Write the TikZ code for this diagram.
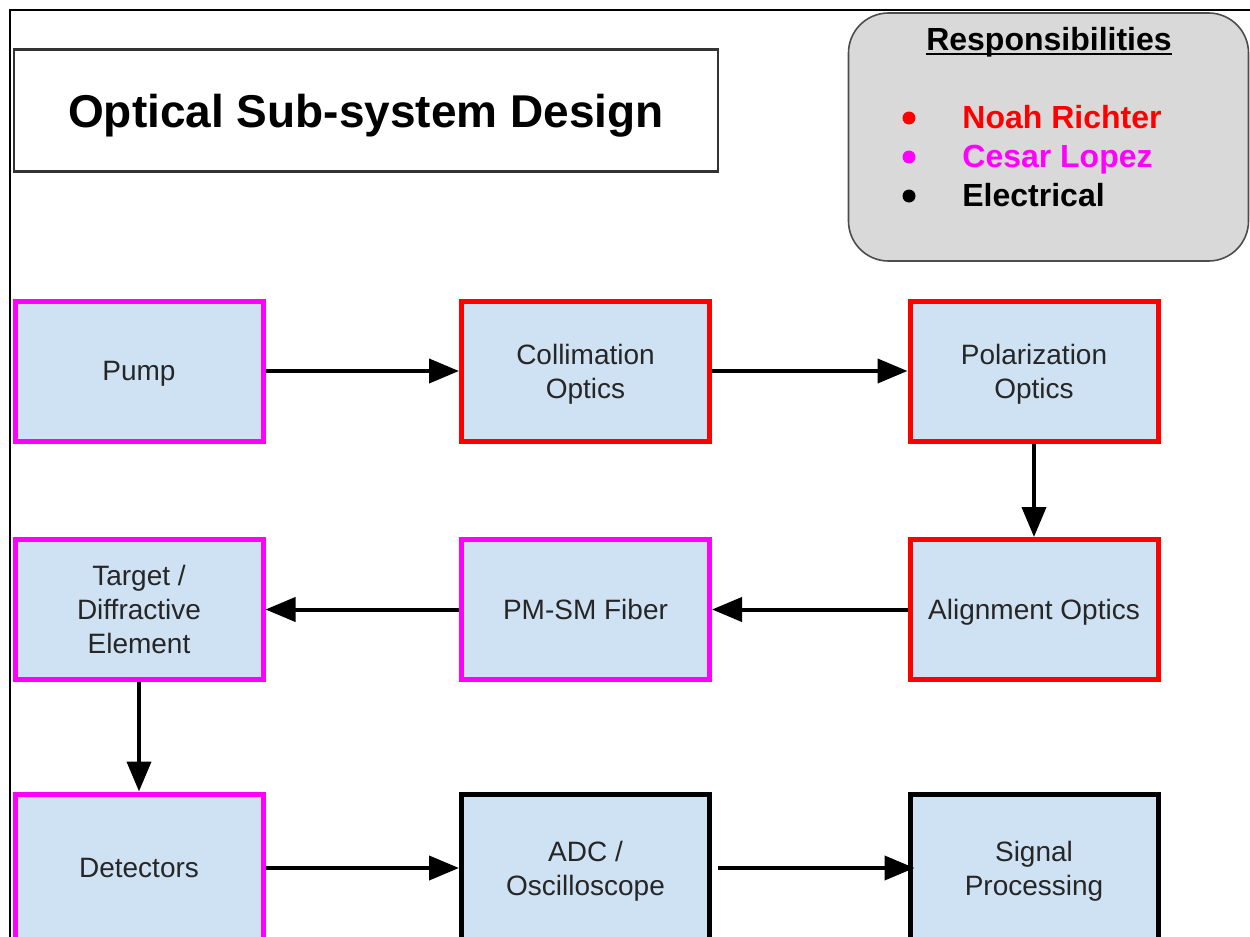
\documentclass[tikz,border=0pt]{standalone}
\usepackage{fontspec}
\setmainfont{Liberation Sans}
\usetikzlibrary{arrows.meta}
\definecolor{boxblue}{HTML}{CFE2F3}
\definecolor{legendgrey}{HTML}{D9D9D9}
\definecolor{noahred}{HTML}{FF0000}
\definecolor{cesarpink}{HTML}{FF00FF}

\begin{document}
\begin{tikzpicture}[x=0.5pt, y=-0.5pt,
    block/.style={draw, line width=2.5pt, fill=boxblue, minimum width=124pt, minimum height=70pt,
        align=center, text=black!85, text depth=0pt, font=\fontsize{14}{17}\selectfont},
    optic/.style={block, draw=noahred},
    fiber/.style={block, draw=cesarpink},
    elec/.style={block, draw=black},
    lastrow/.style={minimum height=74pt},
    dot/.style={circle, inner sep=0pt, minimum size=6.5pt},
    who/.style={anchor=base west, inner sep=0pt, font=\bfseries\fontsize{16}{19}\selectfont},
    flow/.style={-{Triangle[length=15pt, width=12pt]}, line width=2pt}]
    \useasboundingbox (0, 0) rectangle (1250, 937);
    \draw[line width=1pt] (1250, 10) -- (10, 10) -- (10, 937);
    % title and legend
    \node[draw=black!80, line width=1.2pt, minimum width=352pt, minimum height=61pt, text depth=0pt,
        font=\bfseries\fontsize{23}{27}\selectfont] (title) at (366, 110.5) {Optical Sub-system Design};
    \node[draw=black!70, line width=0.8pt, fill=legendgrey, rounded corners=20pt,
        minimum width=200pt, minimum height=124pt] (legend) at (1048.5, 137) {};
    \node[font=\bfseries\fontsize{16}{19}\selectfont, anchor=base, inner sep=0pt] (resp) at (1049, 50) {Responsibilities};
    \draw[line width=0.9pt] ([yshift=-1.8pt]resp.base west) -- ([yshift=-1.8pt]resp.base east);
    \node[dot, fill=noahred] (noahdot) at (909, 118) {};
    \node[dot, fill=cesarpink] (cesardot) at (909, 157) {};
    \node[dot, fill=black] (elecdot) at (909, 196) {};
    \node[who, text=noahred] (noah) at (962, 128) {Noah Richter};
    \node[who, text=cesarpink] (cesar) at (962, 167) {Cesar Lopez};
    \node[who, text=black] (elec) at (962, 206) {Electrical};
    % blocks
    \node[fiber] (pump) at (139, 371) {Pump};
    \node[optic] (colli) at (585.5, 371) {Collimation\\Optics};
    \node[optic] (polar) at (1034, 371) {Polarization\\Optics};
    \node[optic] (align) at (1034, 609.5) {Alignment Optics};
    \node[fiber] (pmsm) at (585.5, 609.5) {PM-SM Fiber};
    \node[fiber] (target) at (139, 609.5) {Target /\\Diffractive\\Element};
    \node[fiber, lastrow] (detect) at (139, 868) {Detectors};
    \node[elec, lastrow] (adc) at (585.5, 868) {ADC /\\Oscilloscope};
    \node[elec, lastrow] (signal) at (1034, 868) {Signal\\Processing};
    % connections
    \draw[flow] (pump) -- (colli);
    \draw[flow] (colli) -- (polar);
    \draw[flow] (polar) -- (align);
    \draw[flow] (align) -- (pmsm);
    \draw[flow] (pmsm) -- (target);
    \draw[flow] (target) -- (detect);
    \draw[flow] (detect) -- (adc);
    \draw[flow, shorten <=3pt, shorten >=-3.5pt] (adc) -- (signal);
\end{tikzpicture}
\end{document}
